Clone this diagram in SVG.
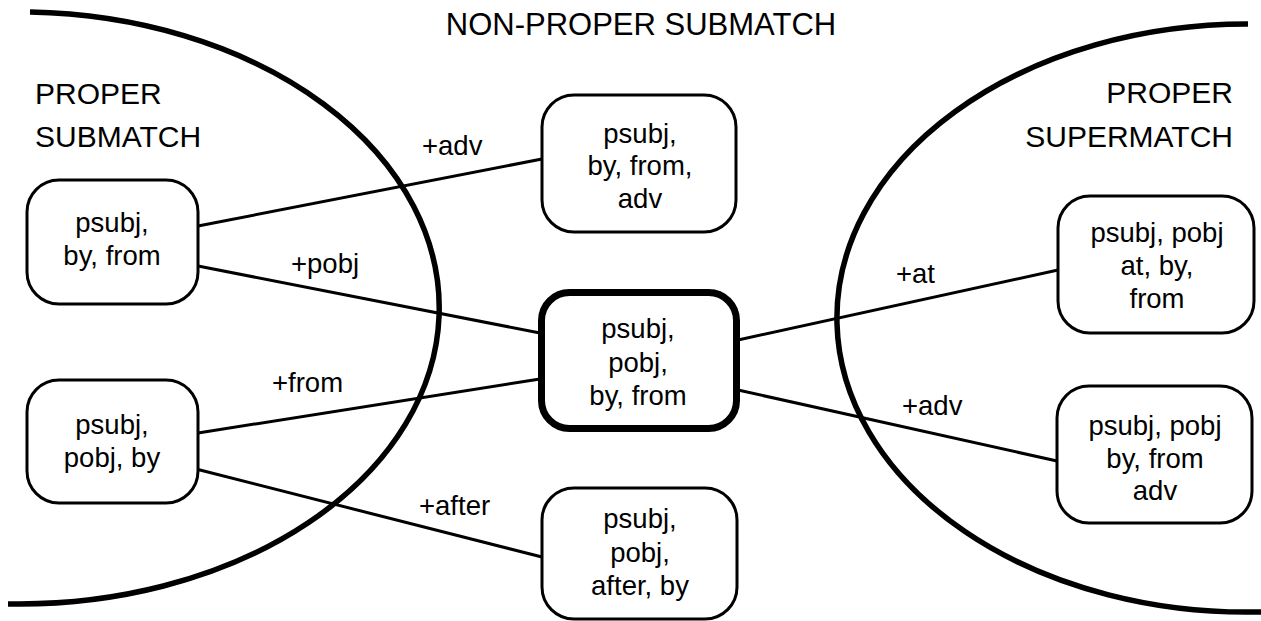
<svg xmlns="http://www.w3.org/2000/svg" width="1261" height="621" viewBox="0 0 1261 621">
  <style>
    text { font-family: "Liberation Sans", Arial, sans-serif; fill: #000; }
    .head { font-size: 30px; }
    .title { font-size: 31px; }
    .node-text { font-size: 27.5px; text-anchor: middle; }
    .label { font-size: 27.5px; }
    .box { fill: #fff; stroke: #000; stroke-width: 3; }
    .box-main { fill: #fff; stroke: #000; stroke-width: 7; }
    .edge { stroke: #000; stroke-width: 3; fill: none; }
    .region { stroke: #000; stroke-width: 5.5; fill: none; }
  </style>
  <rect width="1261" height="621" fill="#fff"/>

  <!-- region boundaries: half ellipses, left centred at (19,308), right at (1256,318) -->
  <g id="regions">
    <path class="region" d="M30,12.1 A420,296 0 1 1 8,603.9"/>
    <path class="region" d="M1248,24.1 A410,294 0 1 0 1262,611.9"/>
  </g>

  <!-- region headings -->
  <g id="headings">
    <text class="title" x="641" y="35" text-anchor="middle">NON-PROPER SUBMATCH</text>
    <text class="head" x="35" y="104">PROPER</text>
    <text class="head" x="35" y="147">SUBMATCH</text>
    <text class="head" x="1233" y="103" text-anchor="end">PROPER</text>
    <text class="head" x="1233" y="147" text-anchor="end">SUPERMATCH</text>
  </g>

  <!-- connectors -->
  <g id="connectors">
    <line class="edge" x1="198" y1="226" x2="542" y2="159"/>
    <line class="edge" x1="198" y1="266" x2="540" y2="333"/>
    <line class="edge" x1="198" y1="433" x2="540" y2="379"/>
    <line class="edge" x1="196" y1="469" x2="542" y2="557"/>
    <line class="edge" x1="738" y1="340" x2="1058" y2="270"/>
    <line class="edge" x1="738" y1="390" x2="1057" y2="461"/>
    <text class="label" x="422" y="155">+adv</text>
    <text class="label" x="291" y="273">+pobj</text>
    <text class="label" x="272" y="392">+from</text>
    <text class="label" x="419" y="515">+after</text>
    <text class="label" x="896" y="283">+at</text>
    <text class="label" x="902" y="415">+adv</text>
  </g>

  <g id="node-sub1">
    <rect class="box" x="27" y="180" width="171" height="124" rx="32"/>
    <text class="node-text" x="112" y="232">psubj,</text>
    <text class="node-text" x="112" y="265">by, from</text>
  </g>

  <g id="node-sub2">
    <rect class="box" x="27" y="380" width="171" height="123" rx="32"/>
    <text class="node-text" x="112" y="434">psubj,</text>
    <text class="node-text" x="112" y="467">pobj, by</text>
  </g>

  <g id="node-adv">
    <rect class="box" x="542" y="95" width="194" height="137" rx="32"/>
    <text class="node-text" x="640" y="143">psubj,</text>
    <text class="node-text" x="640" y="175">by, from,</text>
    <text class="node-text" x="640" y="208">adv</text>
  </g>

  <g id="node-main">
    <rect class="box-main" x="541.5" y="292.5" width="195" height="136" rx="28"/>
    <text class="node-text" x="638" y="338">psubj,</text>
    <text class="node-text" x="638" y="372">pobj,</text>
    <text class="node-text" x="638" y="405">by, from</text>
  </g>

  <g id="node-after">
    <rect class="box" x="542" y="488" width="195" height="131" rx="32"/>
    <text class="node-text" x="640" y="528">psubj,</text>
    <text class="node-text" x="640" y="562">pobj,</text>
    <text class="node-text" x="640" y="595">after, by</text>
  </g>

  <g id="node-super1">
    <rect class="box" x="1058" y="196" width="196" height="137" rx="32"/>
    <text class="node-text" x="1157" y="242">psubj, pobj</text>
    <text class="node-text" x="1157" y="275">at, by,</text>
    <text class="node-text" x="1157" y="308">from</text>
  </g>

  <g id="node-super2">
    <rect class="box" x="1057" y="386" width="195" height="137" rx="32"/>
    <text class="node-text" x="1155" y="435">psubj, pobj</text>
    <text class="node-text" x="1155" y="468">by, from</text>
    <text class="node-text" x="1155" y="500">adv</text>
  </g>
</svg>
